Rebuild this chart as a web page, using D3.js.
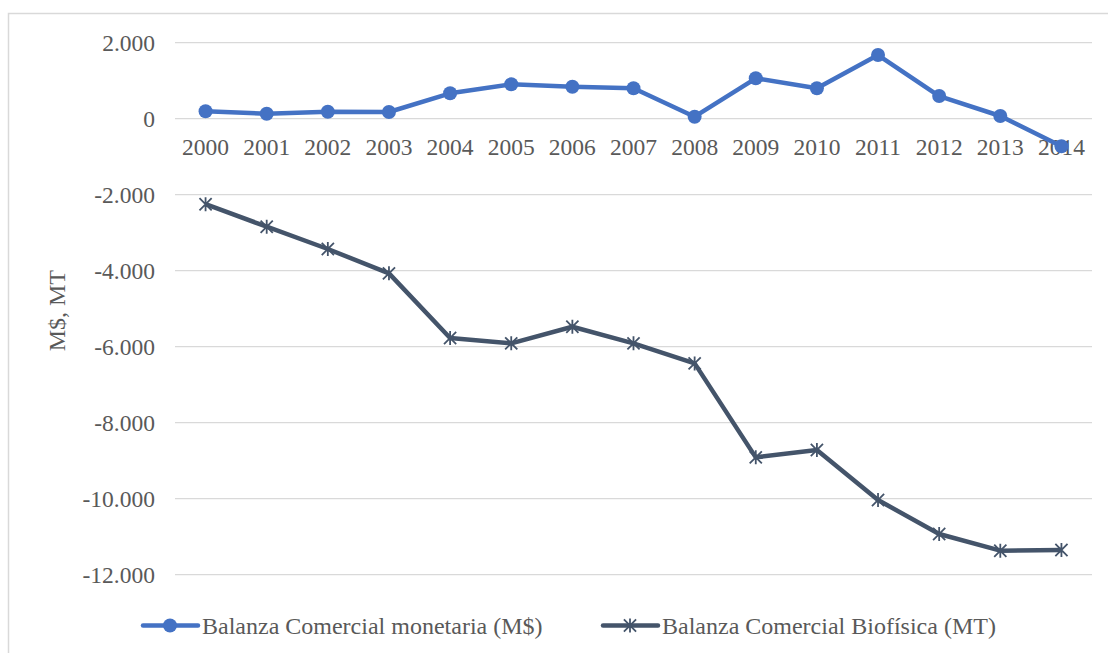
<!DOCTYPE html>
<html>
<head>
<meta charset="utf-8">
<script src="https://cdn.jsdelivr.net/npm/d3@7"></script>
<style>
  html, body { margin: 0; padding: 0; background: #fff; }
  svg { display: block; }
  svg text { font-family: "Liberation Serif", "DejaVu Serif", serif !important; fill: #595959; }
</style>
</head>
<body>
<svg id="chart" width="1108" height="653"></svg>
<script>
const years = ["2000","2001","2002","2003","2004","2005","2006","2007","2008","2009","2010","2011","2012","2013","2014"];
const monetaria = [195, 132, 184, 176, 668, 905, 842, 800, 53, 1063, 800, 1676, 597, 71, -724];
const biofisica = [-2250, -2842, -3429, -4070, -5770, -5912, -5474, -5912, -6439, -8912, -8719, -10035, -10930, -11368, -11350];
const yTicks = [2000, 0, -2000, -4000, -6000, -8000, -10000, -12000];
const seriesNames = ["Balanza Comercial monetaria (M$)", "Balanza Comercial Biofísica (MT)"];
const yAxisTitle = "M$, MT";

const FONT = '"Liberation Serif", "DejaVu Serif", serif';
const svg = d3.select("#chart");
const plot = { left: 175, right: 1092, top: 42.7, bottom: 574.7 };

// outer chart border
svg.append("rect").attr("x", 8.5).attr("y", 13.5).attr("width", 1120).attr("height", 700)
  .attr("fill", "none").attr("stroke", "#d9d9d9").attr("stroke-width", 1.5);

const x = d3.scaleBand().domain(years).range([plot.left, plot.right]);
const y = d3.scaleLinear().domain([-12000, 2000]).range([plot.bottom, plot.top]);
const fmt = v => d3.format(",")(v).replace(/,/g, ".").replace("−", "-");

// gridlines
svg.append("g").selectAll("line").data(yTicks).join("line")
  .attr("x1", plot.left).attr("x2", plot.right)
  .attr("y1", d => y(d)).attr("y2", d => y(d))
  .attr("stroke", "#d9d9d9").attr("stroke-width", 1.3);

// y tick labels
const yAxis = d3.axisLeft(y).tickValues(yTicks).tickFormat(fmt).tickSize(0).tickPadding(0);
const gy = svg.append("g").attr("transform", `translate(155,0)`).call(yAxis);
gy.attr("font-family", FONT);
gy.select(".domain").remove();
gy.selectAll("text").style("font-size", "23.5px").attr("fill", "#595959").attr("dy", "0.34em");

// x tick labels at y=0 line
const xAxis = d3.axisBottom(x).tickSize(0).tickPadding(0);
const gx = svg.append("g").attr("transform", `translate(0,${y(0) + 20})`).call(xAxis);
gx.attr("font-family", FONT);
gx.select(".domain").remove();
gx.selectAll("text").style("font-size", "23.5px").attr("fill", "#595959").attr("dy", "0.71em");

// y axis title
svg.append("text").attr("transform", `translate(65,${(plot.top + plot.bottom) / 2 + 2}) rotate(-90)`)
  .attr("text-anchor", "middle").style("font-size", "24px").text(yAxisTitle);

const cx = d => x(d) + x.bandwidth() / 2;
const line = d3.line().x((d, i) => cx(years[i])).y(d => y(d));

const colMon = "#4472C4", colBio = "#44546A";

// biofisica line
svg.append("path").datum(biofisica).attr("d", line).attr("fill", "none")
  .attr("stroke", colBio).attr("stroke-width", 4.5).attr("stroke-linejoin", "round");
const star = (g, px, py, r) => {
  const p = [];
  p.push(`M${px},${py - r}L${px},${py + r}`);
  p.push(`M${px - r * 0.87},${py - r * 0.87}L${px + r * 0.87},${py + r * 0.87}`);
  p.push(`M${px - r * 0.87},${py + r * 0.87}L${px + r * 0.87},${py - r * 0.87}`);
  g.append("path").attr("d", p.join("")).attr("stroke", colBio).attr("stroke-width", 1.8).attr("fill", "none");
};
const gStars = svg.append("g");
biofisica.forEach((v, i) => star(gStars, cx(years[i]), y(v), 7));

// monetaria line
svg.append("path").datum(monetaria).attr("d", line).attr("fill", "none")
  .attr("stroke", colMon).attr("stroke-width", 4.5).attr("stroke-linejoin", "round");
svg.append("g").selectAll("circle").data(monetaria).join("circle")
  .attr("cx", (d, i) => cx(years[i])).attr("cy", d => y(d)).attr("r", 7).attr("fill", colMon);

// legend
const ly = 625.5;
const leg = [
  { x0: 143, name: seriesNames[0], col: colMon, type: "circle" },
  { x0: 603, name: seriesNames[1], col: colBio, type: "star" }
];
leg.forEach(l => {
  svg.append("line").attr("x1", l.x0).attr("x2", l.x0 + 55).attr("y1", ly).attr("y2", ly)
    .attr("stroke", l.col).attr("stroke-width", 4.5).attr("stroke-linecap", "round");
  if (l.type === "circle") {
    svg.append("circle").attr("cx", l.x0 + 27).attr("cy", ly).attr("r", 7).attr("fill", l.col);
  } else {
    star(svg, l.x0 + 27, ly, 7);
  }
  svg.append("text").attr("x", l.x0 + 59).attr("y", ly).attr("dy", "0.35em")
    .style("font-size", "24px").text(l.name);
});
</script>
</body>
</html>
